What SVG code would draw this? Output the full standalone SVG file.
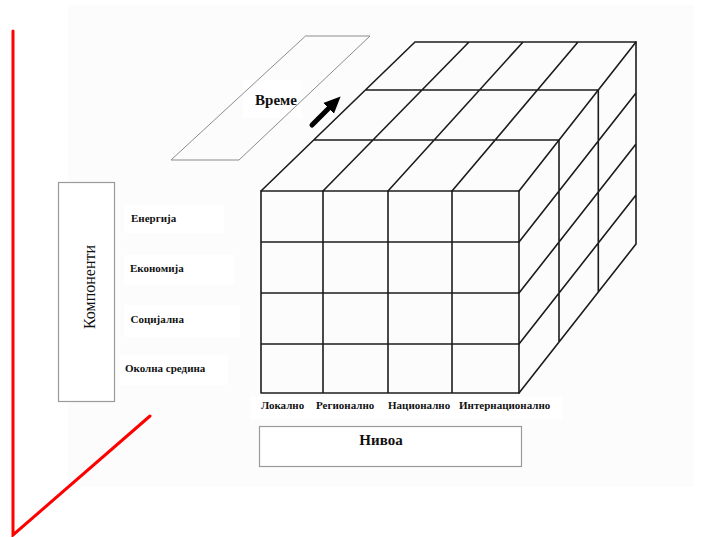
<svg xmlns="http://www.w3.org/2000/svg" width="701" height="537" viewBox="0 0 701 537">
  <defs>
    <style>
      .grid { stroke: #1c1c1c; stroke-width: 1.6; fill: none; stroke-linecap: round; }
      .frame { stroke: #9a9a9a; stroke-width: 1.2; fill: #ffffff; }
      .plane { stroke: #8c8c8c; stroke-width: 1; fill: none; }
      .axis { stroke: #ff0000; stroke-width: 3; fill: none; stroke-linecap: round; }
      .lbl { font-family: "Liberation Serif", "Times New Roman", serif; font-size: 11px; font-weight: bold; fill: #111; }
      .title { font-family: "Liberation Serif", "Times New Roman", serif; font-size: 15px; font-weight: bold; fill: #111; }
      .patch { fill: #ffffff; }
    </style>
    <marker id="head" markerUnits="userSpaceOnUse" markerWidth="18" markerHeight="18" viewBox="0 0 18 18" refX="2" refY="9" orient="auto">
      <path d="M0,1.5 L17,9 L0,16.5 Z" fill="#000"/>
    </marker>
  </defs>

  <!-- paper background -->
  <rect x="0" y="0" width="701" height="537" fill="#ffffff"/>
  <rect x="68" y="5" width="626" height="482" fill="#fcfcfc"/>
  <rect class="patch" x="243" y="80" width="59" height="38"/>
  <rect class="patch" x="124" y="205" width="100" height="28"/>
  <rect class="patch" x="124" y="255" width="110" height="30"/>
  <rect class="patch" x="124" y="305" width="116" height="32"/>
  <rect class="patch" x="120" y="355" width="108" height="30"/>
  <rect class="patch" x="250" y="397" width="312" height="22"/>

  <!-- red axes -->
  <g id="axes">
    <polyline class="axis" points="13,31 13,535 150,416"/>
  </g>

  <!-- time plane -->
  <g id="time">
    <polygon class="plane" points="305.5,36 370,36 239,160 171,160"/>
    <text class="title" x="276" y="105" text-anchor="middle">Време</text>
  </g>

  <!-- direction arrow -->
  <g id="connectors">
    <line x1="312" y1="125" x2="330" y2="107" stroke="#000" stroke-width="5" stroke-linecap="round" marker-end="url(#head)"/>
  </g>

  <!-- the cube -->
  <g id="cube">
    <!-- front face -->
    <path class="grid" d="M261,191 H519 M261,242 H519 M261,293 H519 M261,344 H519 M261,393 H519
                          M261,191 V393 M323,191 V393 M388,191 V393 M452,191 V393 M519,191 V393"/>
    <!-- top face -->
    <path class="grid" d="M261,191 L415,42 M323,191 L469,42 M388,191 L523,42 M452,191 L578,42 M519,191 L636,42
                          M313.7,140 H559 M365.4,90 H598.3 M415,42 H636"/>
    <!-- right face -->
    <path class="grid" d="M559,140 V342 M598.3,90 V292 M636,42 V244
                          M519,242 L636,93 M519,293 L636,144 M519,344 L636,195 M519,393 L636,244"/>
  </g>

  <!-- component axis -->
  <g id="components">
    <rect class="frame" x="58.5" y="182.5" width="56" height="219"/>
    <text class="title" style="font-weight:normal;font-size:16px" transform="translate(95,287) rotate(-90)" text-anchor="middle">Компоненти</text>
    <text class="lbl" x="131" y="222">Енергија</text>
    <text class="lbl" x="130" y="272">Економија</text>
    <text class="lbl" x="130.5" y="323">Социјална</text>
    <text class="lbl" x="125" y="372">Околна средина</text>
  </g>

  <!-- level axis -->
  <g id="levels">
    <text class="lbl" x="261" y="409">Локално</text>
    <text class="lbl" x="316" y="409">Регионално</text>
    <text class="lbl" x="388" y="409">Национално</text>
    <text class="lbl" x="459" y="409">Интернационално</text>
    <rect class="frame" x="259.5" y="426.5" width="262" height="40"/>
    <text class="title" x="381" y="445" text-anchor="middle">Нивоа</text>
  </g>
</svg>
